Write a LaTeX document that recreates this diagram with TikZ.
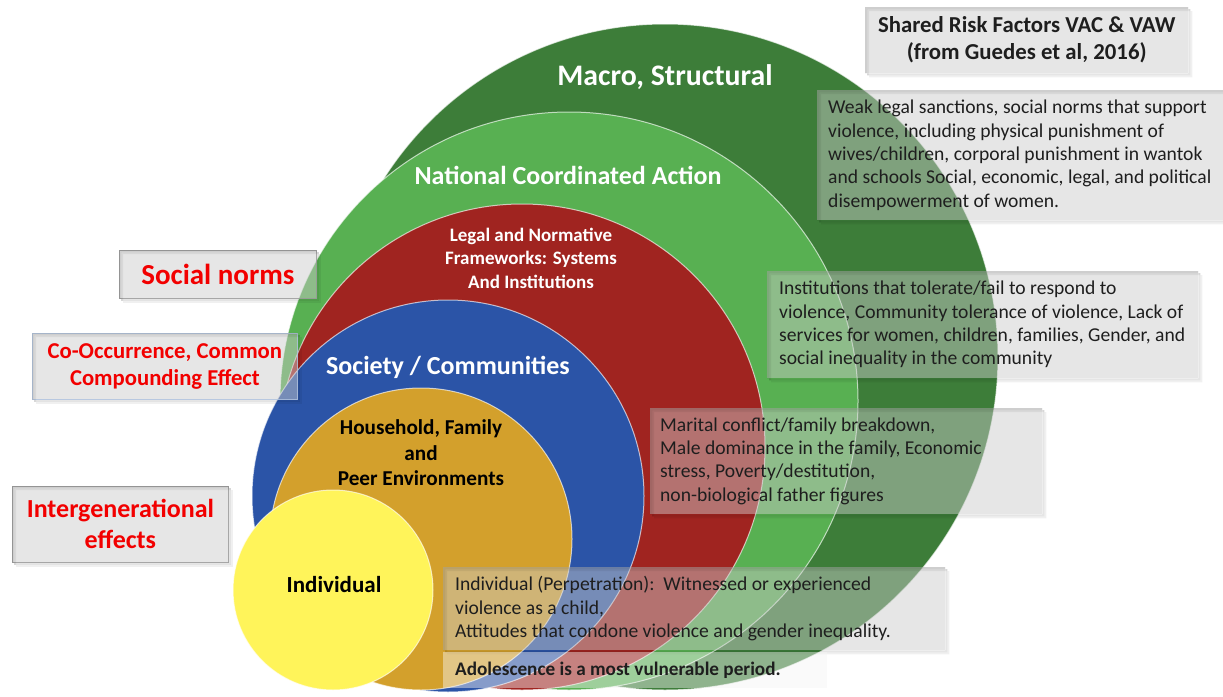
\documentclass[tikz,border=0pt]{standalone}
\usepackage{fontspec}
\setmainfont{Carlito}
\definecolor{dgreen}{HTML}{3D7D39}
\definecolor{lgreen}{HTML}{58B052}
\definecolor{rred}{HTML}{A02420}
\definecolor{bblue}{HTML}{2B54A7}
\definecolor{ggold}{HTML}{D3A02C}
\definecolor{yyellow}{HTML}{FFF45A}
\definecolor{boxgray}{HTML}{CBCBCB}
\definecolor{txtc}{HTML}{1E1E1E}
\definecolor{redtxt}{HTML}{F20000}
\definecolor{bluebord}{HTML}{B4C6E0}
\newcommand\boxshadow[1]{%
  \fill[black, fill opacity=0.10, even odd rule]
    ([shift={(2,2)}]#1.north west) rectangle ([shift={(2,2)}]#1.south east)
    (#1.north west) rectangle (#1.south east);
  \fill[black, fill opacity=0.06, even odd rule]
    ([shift={(4,4)}]#1.north west) rectangle ([shift={(4,4)}]#1.south east)
    ([shift={(2,2)}]#1.north west) rectangle ([shift={(2,2)}]#1.south east);}
\begin{document}
\begin{tikzpicture}[x=1pt,y=-1pt,
  ring/.style={draw=white, draw opacity=0.65, line width=1pt},
  lbl/.style={font=\bfseries, text=white, align=center, inner sep=0pt},
  dlbl/.style={font=\bfseries, text=black, align=center, inner sep=0pt},
  gbox/.style={rectangle, fill=boxgray, fill opacity=0.47, inner sep=0pt, anchor=north west},
  lbox/.style={gbox, draw=gray!75, draw opacity=0.9, line width=0.8pt},
  bxtxt/.style={text=txtc, align=left, inner sep=0pt, anchor=west, font=\fontsize{19.6}{23.3}\selectfont},
  redlbl/.style={text=redtxt, align=center, inner sep=0pt}]
\useasboundingbox (0,0) rectangle (1223,696);
\fill[white] (0,0) rectangle (1223,696);

% nested circles
\fill[dgreen, ring] (665,357) circle[radius=333pt];
\fill[lgreen, ring] (569,401) circle[radius=289pt];
\fill[rred, ring] (522,447) circle[radius=243pt];
\fill[bblue, ring] (448,496) circle[radius=196pt];
\fill[ggold, ring] (421,539) circle[radius=151pt];
\fill[yyellow, ring] (333,590) circle[radius=100pt];

% circle labels
\node[lbl, font=\bfseries\fontsize{29.8}{34}\selectfont] (macro) at (665,77) {Macro, Structural};
\node[lbl, font=\bfseries\fontsize{26}{30}\selectfont] (nat) at (568,175) {National Coordinated Action};
\node[lbl, font=\bfseries\fontsize{19}{23.5}\selectfont] (legal) at (531,258) {Legal and Normative\\Frameworks: Systems\\And Institutions};
\node[lbl, font=\bfseries\fontsize{26}{30}\selectfont] (soc) at (448,367) {Society / Communities};
\node[dlbl, font=\bfseries\fontsize{21.2}{25.5}\selectfont] (house) at (421,453) {Household, Family\\and\\Peer Environments};
\node[dlbl, font=\bfseries\fontsize{23}{27}\selectfont] (indiv) at (334,585) {Individual};

% title box
\node[gbox, minimum width=323pt, minimum height=66pt] (title) at (865,7) {};
\boxshadow{title}
\node[text=txtc, align=center, inner sep=0pt, font=\bfseries\fontsize{22.8}{27}\selectfont] (titletxt) at (title.center) {Shared Risk Factors VAC \& VAW\\(from Guedes et al, 2016)};

% right boxes
\node[gbox, minimum width=406pt, minimum height=130pt] (bA) at (817,90) {};
\boxshadow{bA}
\node[bxtxt] (tA) at ([xshift=11pt]bA.west) {Weak legal sanctions, social norms that support\\violence, including physical punishment of\\wives/children, corporal punishment in wantok\\and schools Social, economic, legal, and political\\disempowerment of women.};

\node[gbox, minimum width=431pt, minimum height=107pt] (bB) at (767,271) {};
\boxshadow{bB}
\node[bxtxt] (tB) at ([xshift=12pt]bB.west) {Institutions that tolerate/fail to respond to\\violence, Community tolerance of violence, Lack of\\services for women, children, families, Gender, and\\social inequality in the community};

\node[gbox, minimum width=392pt, minimum height=106pt] (bC) at (650,408) {};
\boxshadow{bC}
\node[bxtxt] (tC) at ([xshift=10pt]bC.west) {Marital conflict/family breakdown,\\Male dominance in the family, Economic\\stress, Poverty/destitution,\\non-biological father figures};

\node[gbox, minimum width=502pt, minimum height=83pt] (bD) at (443,567) {};
\boxshadow{bD}
\node[bxtxt] (tD) at ([xshift=12pt]bD.west) {Individual (Perpetration):\ \ Witnessed or experienced\\violence as a child,\\Attitudes that condone violence and gender inequality.};

\node[gbox, fill=white!96!black, fill opacity=0.45, minimum width=384pt, minimum height=36pt] (bE) at (443,652) {};
\node[bxtxt, font=\bfseries\fontsize{19.2}{23.3}\selectfont] (tE) at ([xshift=12pt]bE.west) {Adolescence is a most vulnerable period.};

% left boxes
\node[lbox, minimum width=197pt, minimum height=48pt] (bSN) at (119,250) {};
\boxshadow{bSN}
\node[redlbl, font=\bfseries\fontsize{29}{34}\selectfont] (tSN) at (bSN.center) {Social norms};

\node[lbox, draw=bluebord, minimum width=265pt, minimum height=66pt] (bCO) at (32,333) {};
\boxshadow{bCO}
\node[redlbl, font=\bfseries\fontsize{22.7}{27}\selectfont] (tCO) at (bCO.center) {Co-Occurrence, Common\\Compounding Effect};

\node[lbox, minimum width=216pt, minimum height=76pt] (bIG) at (12,486) {};
\boxshadow{bIG}
\node[redlbl, font=\bfseries\fontsize{26}{31}\selectfont] (tIG) at (bIG.center) {Intergenerational\\effects};
\end{tikzpicture}
\end{document}
